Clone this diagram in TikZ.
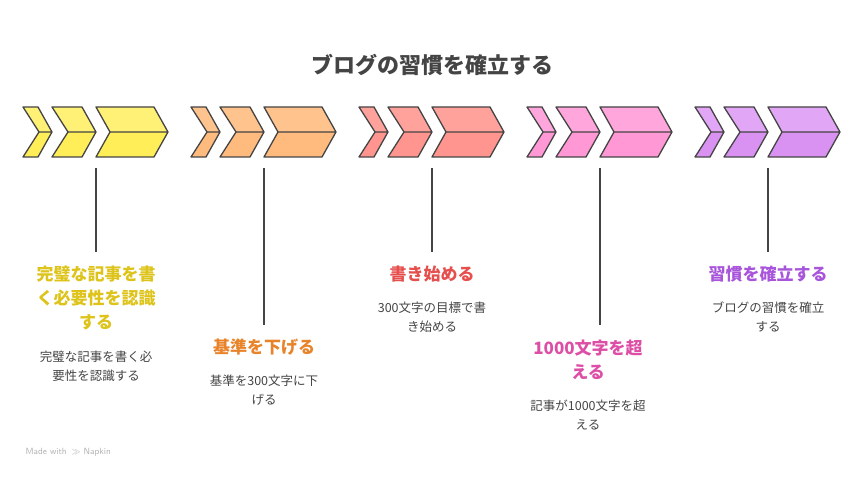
\documentclass[tikz,border=0pt]{standalone}
\usepackage{fontspec}
\newfontfamily\cjk{Noto Sans CJK JP}
\definecolor{ink}{HTML}{444444}
\definecolor{yA}{HTML}{FFF176}\definecolor{yB}{HTML}{FFEE58}\definecolor{yT}{HTML}{DDC31A}
\definecolor{oA}{HTML}{FFC38D}\definecolor{oB}{HTML}{FFBA7E}\definecolor{oT}{HTML}{E8832A}
\definecolor{rA}{HTML}{FFA29C}\definecolor{rB}{HTML}{FF958E}\definecolor{rT}{HTML}{E5504E}
\definecolor{pA}{HTML}{FFA6DC}\definecolor{pB}{HTML}{FF98D5}\definecolor{pT}{HTML}{DD4FA6}
\definecolor{vA}{HTML}{E2A6F6}\definecolor{vB}{HTML}{D992F2}\definecolor{vT}{HTML}{A855DB}
\tikzset{
 outl/.style={draw=ink,line width=1.3pt,line join=round},
 ttl/.style={font=\cjk\bfseries\fontsize{17}{24}\selectfont,align=center},
 body/.style={font=\cjk\fontsize{12.5}{19}\selectfont,text=ink,align=center},
 conn/.style={draw=ink,line width=1.3pt}
}
\begin{document}
\begin{tikzpicture}[x=1pt,y=-1pt]
\useasboundingbox (0,0) rectangle (864,481);
\node[font=\cjk\bfseries\fontsize{22}{26}\selectfont,text=ink] (title) at (432,65) {ブログの習慣を確立する};
\foreach \o/\ca/\cb in {0/yA/yB,168/oA/oB,336/rA/rB,504/pA/pB,672/vA/vB}{
 \begin{scope}[xshift=\o]
 \foreach \L/\R/\T/\N in {23/38/52/39,52/82/96/68,96/154/168/110}{
  \fill[\ca] (\L,107)--(\R,107)--(\T,132)--(\N,132)--cycle;
  \fill[\cb] (\N,132)--(\T,132)--(\R,157)--(\L,157)--cycle;
  \draw[outl] (\L,107)--(\R,107)--(\T,132)--(\R,157)--(\L,157)--(\N,132)--cycle (\N,132)--(\T,132);
 }
 \end{scope}
}
\coordinate (c1) at (96,168);\coordinate (e1) at (96,252);
\coordinate (c2) at (264,168);\coordinate (e2) at (264,325);
\coordinate (c3) at (432,168);\coordinate (e3) at (432,252);
\coordinate (c4) at (600,168);\coordinate (e4) at (600,325);
\coordinate (c5) at (768,168);\coordinate (e5) at (768,252);
\foreach \i in {1,...,5}{\draw[conn] (c\i)--(e\i);}
\node[ttl,text=yT] (t1) at (96,298) {完璧な記事を書\\く必要性を認識\\する};
\node[body] (b1) at (96,366) {完璧な記事を書く必\\要性を認識する};
\node[ttl,text=oT] (t2) at (264,347) {基準を下げる};
\node[body] (b2) at (264,390) {基準を300文字に下\\げる};
\node[ttl,text=rT] (t3) at (432,274) {書き始める};
\node[body] (b3) at (432,317) {300文字の目標で書\\き始める};
\node[ttl,text=pT] (t4) at (588,360) {1000文字を超\\える};
\node[body] (b4) at (588,415) {記事が1000文字を超\\える};
\node[ttl,text=vT] (t5) at (768,274) {習慣を確立する};
\node[body] (b5) at (768,317) {ブログの習慣を確立\\する};
\node[font=\fontfamily{lmss}\selectfont\fontsize{9}{10}\selectfont,text=black!30,anchor=west] (mw) at (22,452) {Made with \,$\gg$ Napkin};
\end{tikzpicture}
\end{document}
